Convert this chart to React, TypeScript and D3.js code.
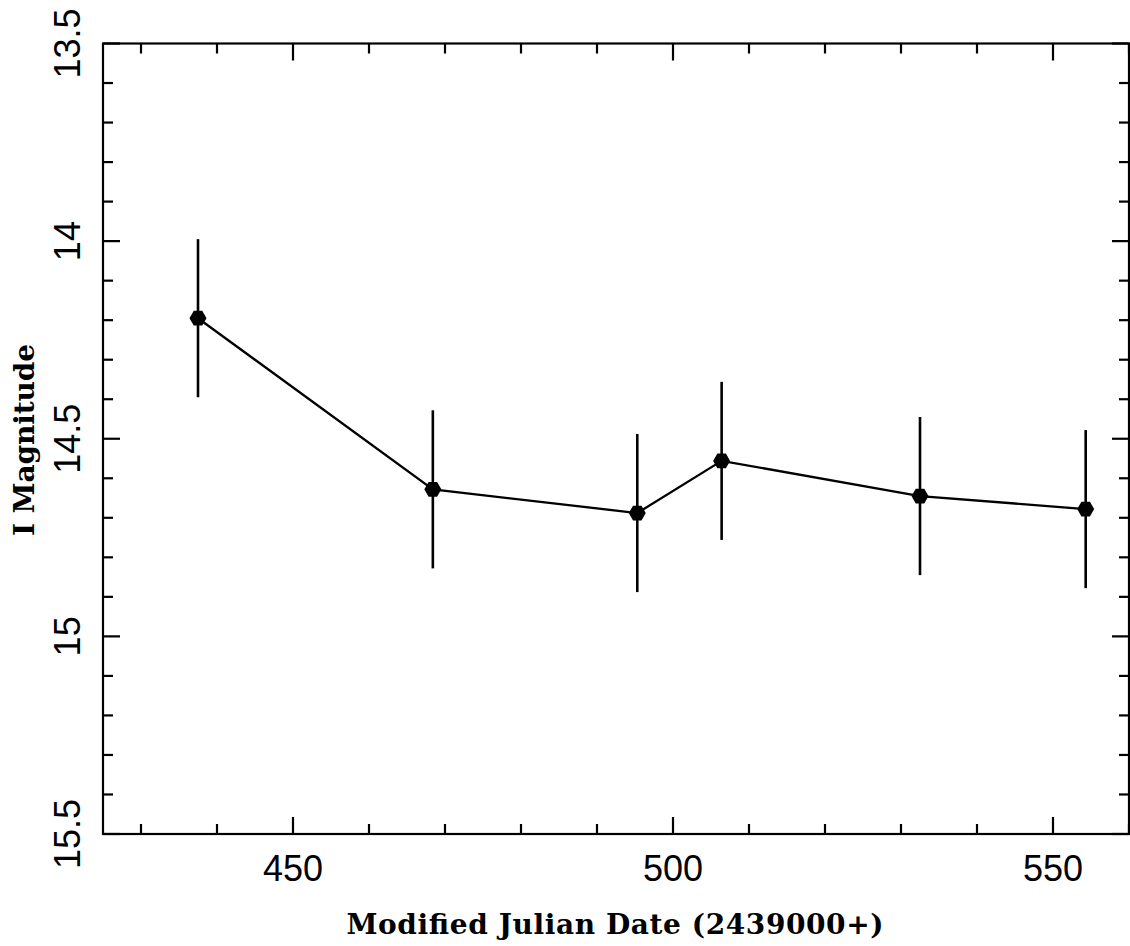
import React from "react";
import * as d3 from "d3";

const mjd = [437.5, 468.4, 495.3, 506.4, 532.5, 554.3];
const mag = [14.195, 14.628, 14.688, 14.556, 14.645, 14.678];
const err = [0.2, 0.2, 0.2, 0.2, 0.2, 0.2];
const xMajorTicks = [450, 500, 550];
const yMajorTicks = [13.5, 14, 14.5, 15, 15.5];
const xTitle = "Modified Julian Date (2439000+)";
const yTitle = "I Magnitude";

const W = 1130, H = 946;
const L = 103, R = 1129, T = 43.5, B = 834;

export default function App() {
  const x = d3.scaleLinear().domain([425, 560]).range([L, R]);
  const y = d3.scaleLinear().domain([13.5, 15.5]).range([T, B]);
  const xMinor = d3.range(430, 560.01, 10).filter((v) => !xMajorTicks.includes(v));
  const yMinor = d3.range(13.6, 15.45, 0.1).map((v) => Math.round(v * 10) / 10).filter((v) => !yMajorTicks.includes(v));
  const line = d3.line<number>().x((_, i) => x(mjd[i])).y((d) => y(d));
  const hex = (cx: number, cy: number, r: number) =>
    d3.range(6).map((k) => {
      const a = (Math.PI / 3) * k;
      return [cx + r * Math.cos(a), cy + r * Math.sin(a)].join(",");
    }).join(" ");
  const majLen = 17, minLen = 10;
  const tickFont = "'Liberation Sans', Arial, Helvetica, sans-serif";
  const titleFont = "'DejaVu Serif', 'Liberation Serif', serif";
  return (
    <svg width={W} height={H} style={{ position: "absolute", left: 0, top: 0, background: "#fff" }}>
      <rect x={L} y={T} width={R - L} height={B - T} fill="none" stroke="#000" strokeWidth={2.2} />
      {xMajorTicks.map((v) => (
        <g key={"xM" + v}>
          <line x1={x(v)} x2={x(v)} y1={B} y2={B - majLen} stroke="#000" strokeWidth={2.2} />
          <line x1={x(v)} x2={x(v)} y1={T} y2={T + majLen} stroke="#000" strokeWidth={2.2} />
          <text x={x(v)} y={881} textAnchor="middle" fontFamily={tickFont} fontSize={36}>{v}</text>
        </g>
      ))}
      {xMinor.map((v) => (
        <g key={"xm" + v}>
          <line x1={x(v)} x2={x(v)} y1={B} y2={B - minLen} stroke="#000" strokeWidth={2.2} />
          <line x1={x(v)} x2={x(v)} y1={T} y2={T + minLen} stroke="#000" strokeWidth={2.2} />
        </g>
      ))}
      {yMajorTicks.map((v) => (
        <g key={"yM" + v}>
          <line x1={L} x2={L + majLen} y1={y(v)} y2={y(v)} stroke="#000" strokeWidth={2.2} />
          <line x1={R} x2={R - majLen} y1={y(v)} y2={y(v)} stroke="#000" strokeWidth={2.2} />
          <text transform={`translate(80,${y(v)}) rotate(-90)`} textAnchor="middle" fontFamily={tickFont} fontSize={36}>{v}</text>
        </g>
      ))}
      {yMinor.map((v) => (
        <g key={"ym" + v}>
          <line x1={L} x2={L + minLen} y1={y(v)} y2={y(v)} stroke="#000" strokeWidth={2.2} />
          <line x1={R} x2={R - minLen} y1={y(v)} y2={y(v)} stroke="#000" strokeWidth={2.2} />
        </g>
      ))}
      <path d={line(mag) || ""} fill="none" stroke="#000" strokeWidth={2.3} />
      {mjd.map((m, i) => (
        <g key={"p" + i}>
          <line x1={x(m)} x2={x(m)} y1={y(mag[i] - err[i])} y2={y(mag[i] + err[i])} stroke="#000" strokeWidth={2.6} />
          <polygon points={hex(x(m), y(mag[i]), 8.5)} fill="#000" />
        </g>
      ))}
      <text x={615} y={934} textAnchor="middle" fontFamily={titleFont} fontWeight="bold" fontSize={28} textLength={537} lengthAdjust="spacing">{xTitle}</text>
      <text transform={`translate(34,440) rotate(-90)`} textAnchor="middle" fontFamily={titleFont} fontWeight="bold" fontSize={28} textLength={192} lengthAdjust="spacing">{yTitle}</text>
    </svg>
  );
}
